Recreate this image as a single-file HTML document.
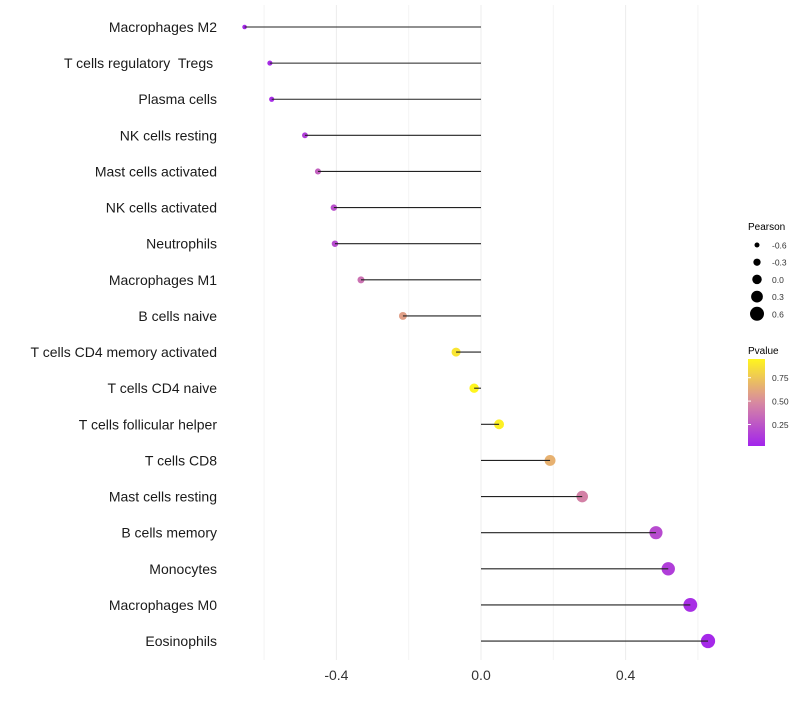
<!DOCTYPE html>
<html><head><meta charset="utf-8"><style>
body{margin:0;background:#fff;font-family:"Liberation Sans",sans-serif}
svg text{font-family:"Liberation Sans",sans-serif;white-space:pre}
</style></head><body>
<svg id="chart" width="800" height="700"></svg>
<script>
const categories=["Macrophages M2","T cells regulatory  Tregs ","Plasma cells","NK cells resting","Mast cells activated","NK cells activated","Neutrophils","Macrophages M1","B cells naive","T cells CD4 memory activated","T cells CD4 naive","T cells follicular helper","T cells CD8","Mast cells resting","B cells memory","Monocytes","Macrophages M0","Eosinophils"];
const pearson=[-0.654,-0.584,-0.579,-0.487,-0.451,-0.407,-0.404,-0.332,-0.216,-0.069,-0.019,0.050,0.191,0.280,0.484,0.518,0.579,0.628];
const pvalues=[0.04,0.06,0.06,0.14,0.3,0.22,0.2,0.38,0.58,0.88,0.95,0.93,0.66,0.45,0.2,0.14,0.07,0.04];
const xTicks=[-0.4,0.0,0.4];
const xTickLabels=["-0.4","0.0","0.4"];
const sizeLegend=[-0.6,-0.3,0.0,0.3,0.6];
const pTicks=[0.25,0.5,0.75];
const pTickLabels=["0.25","0.50","0.75"];

const NS="http://www.w3.org/2000/svg";
const svg=document.getElementById('chart');
const xs=v=>481+v*361.5;
const ys=i=>27+i*36.12;
const rs=p=>4.75+p*3.75;
function col(p){
  const stops=[[0,[160,32,240]],[0.5,[217,140,158]],[0.95,[255,245,30]]];
  p=Math.max(0,Math.min(0.95,p));
  let a=stops[0],b=stops[1];
  if(p>0.5){a=stops[1];b=stops[2];}
  const t=(p-a[0])/(b[0]-a[0]);
  return 'rgb('+a[1].map((c,k)=>Math.round(c+(b[1][k]-c)*t)).join(',')+')';
}
function el(t,at,txt){const e=document.createElementNS(NS,t);for(const k in at)e.setAttribute(k,at[k]);if(txt!==undefined)e.textContent=txt;svg.appendChild(e);return e;}

[-0.6,-0.2,0.2,0.6].forEach(v=>{
  const g=el('line',{x1:xs(v),x2:xs(v),y1:5,y2:660,stroke:'#f4f4f4','stroke-width':1});
  
  
});
xTicks.forEach((v,i)=>{
  const g=el('line',{x1:xs(v),x2:xs(v),y1:5,y2:660,stroke:'#ececec','stroke-width':1});
  
  
  const t=el('text',{x:xs(v),y:680,'text-anchor':'middle','font-size':14,fill:'#333'},xTickLabels[i]);
  
  
});
categories.forEach((c,i)=>{
  const y=ys(i);
  const t=el('text',{x:217,y:y+5,'text-anchor':'end','font-size':14,fill:'#1a1a1a'},c);
  
  
  const d=el('circle',{cx:xs(pearson[i]),cy:y,r:rs(pearson[i]),fill:col(pvalues[i])});
  
  
  const l=el('line',{x1:xs(0),x2:xs(pearson[i]),y1:y,y2:y,stroke:'#222','stroke-width':1.1});
  
  
});
let t=el('text',{x:748,y:230,'font-size':10,fill:'#000'},'Pearson');


sizeLegend.forEach((v,i)=>{
  const y=245+i*17.2;
  const c=el('circle',{cx:757,cy:y,r:rs(v),fill:'#000'});
  
  
  const tx=el('text',{x:772,y:y+3.5,'font-size':8.5,fill:'#333'},v.toFixed(1));
  
  
});
t=el('text',{x:748,y:354,'font-size':10,fill:'#000'},'Pvalue');


const defs=el('defs',{});
const lg=document.createElementNS(NS,'linearGradient');
lg.setAttribute('id','pg');lg.setAttribute('x1','0');lg.setAttribute('y1','1');lg.setAttribute('x2','0');lg.setAttribute('y2','0');
defs.appendChild(lg);
const pv=y=>359+(0.95-y)*(87/0.93);
for(let k=0;k<=10;k++){const p=0.02+k*0.093;const s=document.createElementNS(NS,'stop');s.setAttribute('offset',k/10);s.setAttribute('stop-color',col(p));lg.appendChild(s);}
const bar=el('rect',{x:748,y:359,width:17,height:87,fill:'url(#pg)'});


pTicks.forEach((v,i)=>{
  const y=pv(v);
  const tk=el('line',{x1:748,x2:751,y1:y,y2:y,stroke:'#fff'});
  
  
  const tx=el('text',{x:772,y:y+3.5,'font-size':8.5,fill:'#333'},pTickLabels[i]);
  
  
});
</script>
</body></html>
